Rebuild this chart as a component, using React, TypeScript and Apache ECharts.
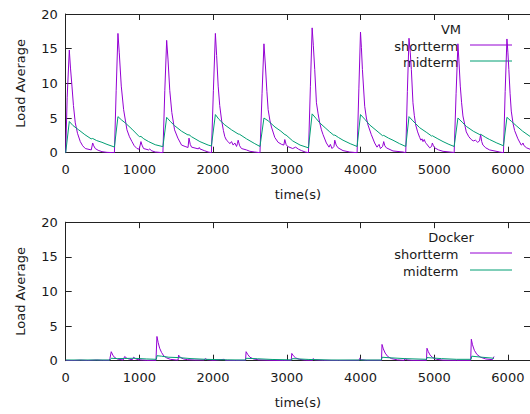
import React, { useEffect, useRef } from "react";
import * as echarts from "echarts";

type P = [number, number];

const xTicks = [0, 1000, 2000, 3000, 4000, 5000, 6000];
const yTicks = [0, 5, 10, 15, 20];
const seriesNames = ["shortterm", "midterm"];
const panelTitles = ["VM", "Docker"];

const vmShort: P[] = [
  [0, 0], [20, 8], [49, 14.8], [65, 12.2], [85, 9.6], [105, 6.8], [130, 4.3], [160, 2.8], [198, 1.6], [230, 1.0], [266, 0.6], [347, 0.4], [366, 1.4], [380, 1.0], [401, 0.6], [440, 0.35], [492, 0.15], [560, 0.05], [661, 0],
  [685, 9], [709, 17.2], [727, 14.4], [754, 9.6], [786, 6.2], [831, 3.3], [865, 2.3], [899, 1.6], [930, 1.0], [967, 0.6], [998, 0.5], [1021, 1.6], [1035, 1.1], [1057, 0.6], [1125, 0.4], [1140, 0.55], [1160, 0.3], [1215, 0.1], [1319, 0],
  [1345, 9], [1370, 16.2], [1388, 13.5], [1412, 9.0], [1440, 5.8], [1477, 3.3], [1522, 2.1], [1572, 1.1], [1620, 0.9], [1660, 0.75], [1673, 2.1], [1690, 1.2], [1708, 0.8], [1800, 0.55], [1812, 0.75], [1821, 0.55], [1880, 0.3], [1933, 0.1], [1977, 0],
  [2004, 9], [2031, 17.2], [2048, 14], [2069, 9.6], [2090, 6.8], [2115, 4.7], [2140, 3.2], [2159, 2.3], [2182, 1.8], [2204, 1.6], [2227, 1.3], [2250, 1.6], [2272, 1.1], [2295, 1.4], [2318, 0.9], [2330, 1.3], [2340, 1.8], [2360, 1.0], [2385, 0.6], [2453, 0.4], [2500, 0.2], [2566, 0.1], [2636, 0],
  [2664, 8.5], [2690, 15.7], [2710, 12.5], [2730, 8.8], [2747, 6.2], [2770, 4.7], [2792, 3.7], [2837, 2.2], [2882, 1.5], [2930, 1.2], [2960, 1.1], [2973, 1.9], [2990, 1.2], [3010, 0.9], [3080, 0.6], [3120, 0.8], [3160, 0.5], [3200, 0.3], [3250, 0.1], [3294, 0],
  [3320, 9.5], [3344, 18.0], [3360, 15.5], [3379, 12], [3402, 7.2], [3425, 5.6], [3447, 4.3], [3470, 3.3], [3492, 2.6], [3537, 1.4], [3573, 0.8], [3591, 1.2], [3614, 0.6], [3640, 0.9], [3651, 1.8], [3670, 1.1], [3696, 0.7], [3763, 0.3], [3853, 0.1], [3954, 0],
  [3978, 9.2], [4000, 17.4], [4012, 15.2], [4026, 12], [4057, 6.7], [4080, 5.0], [4102, 4.0], [4147, 2.6], [4192, 1.4], [4224, 0.8], [4252, 1.2], [4270, 0.6], [4300, 0.9], [4315, 1.6], [4330, 1.0], [4351, 0.7], [4441, 0.25], [4577, 0.1], [4614, 0],
  [4636, 8.8], [4658, 16.5], [4675, 14.5], [4690, 12], [4712, 7.2], [4730, 5.4], [4749, 4.0], [4775, 3.0], [4803, 2.2], [4820, 1.8], [4835, 2.0], [4848, 1.6], [4865, 1.9], [4880, 1.5], [4894, 1.3], [4939, 0.7], [4965, 0.9], [4975, 1.4], [4990, 1.0], [5007, 0.7], [5060, 0.4], [5120, 0.2], [5256, 0.05], [5271, 0],
  [5297, 8.5], [5322, 15.7], [5338, 12.8], [5354, 9.6], [5372, 7.2], [5390, 5.3], [5435, 3.0], [5470, 2.3], [5503, 1.9], [5530, 1.7], [5560, 1.8], [5590, 1.5], [5615, 1.7], [5630, 2.6], [5645, 1.6], [5661, 1.1], [5700, 0.7], [5752, 0.4], [5888, 0.1], [5940, 0],
  [5963, 8.8], [5987, 16.4], [6000, 14.5], [6013, 12], [6030, 8.5], [6046, 6.0], [6070, 4.2], [6091, 3.2], [6136, 2.0], [6181, 1.1], [6195, 1.2], [6204, 1.4], [6220, 1.0], [6254, 0.7], [6300, 0.5],
];

const vmMid: P[] = [
  [0, 0], [49, 4.5], [100, 3.9], [176, 3.3], [260, 2.6], [345, 2.0], [366, 2.05], [420, 1.75], [492, 1.5], [560, 1.2], [661, 0.82],
  [709, 5.2], [760, 4.7], [808, 4.3], [899, 3.4], [1000, 2.3], [1021, 2.35], [1060, 2.0], [1125, 1.6], [1215, 1.15], [1319, 0.87],
  [1370, 5.1], [1420, 4.5], [1477, 3.9], [1572, 3.1], [1660, 2.55], [1673, 2.6], [1708, 2.3], [1821, 1.6], [1933, 1.1], [1977, 0.97],
  [2031, 5.5], [2080, 4.8], [2160, 4.0], [2250, 3.3], [2340, 2.7], [2360, 2.65], [2453, 2.0], [2566, 1.3], [2636, 0.9],
  [2690, 5.0], [2747, 4.6], [2840, 3.7], [2920, 3.1], [2975, 2.6], [2990, 2.55], [3080, 1.7], [3180, 1.1], [3294, 0.7],
  [3344, 5.6], [3400, 4.9], [3447, 4.3], [3520, 3.6], [3583, 3.0], [3640, 2.5], [3651, 2.55], [3700, 2.2], [3763, 1.8], [3860, 1.3], [3954, 0.9],
  [4000, 5.5], [4060, 4.8], [4125, 4.0], [4238, 3.0], [4300, 2.45], [4315, 2.5], [4380, 2.1], [4441, 1.8], [4530, 1.3], [4614, 0.9],
  [4658, 5.2], [4710, 4.6], [4803, 3.6], [4900, 2.9], [4965, 2.4], [4975, 2.45], [5050, 2.0], [5120, 1.6], [5200, 1.2], [5271, 0.9],
  [5322, 5.0], [5380, 4.4], [5435, 3.8], [5530, 3.1], [5620, 2.6], [5632, 2.65], [5700, 2.2], [5752, 1.9], [5850, 1.4], [5940, 1.0],
  [5987, 5.1], [6050, 4.5], [6113, 3.9], [6200, 3.1], [6300, 2.35],
];

const dockerShort: P[] = [
  [0, 0.05], [100, 0.02], [200, 0.08], [300, 0.03], [420, 0.1], [500, 0.05], [590, 0.05], [600, 0.3], [618, 1.3], [640, 0.8], [660, 0.5], [700, 0.25], [750, 0.15],
  [780, 0.1], [800, 0.6], [830, 0.35], [870, 0.2], [905, 0.15], [922, 0.5], [945, 0.3], [980, 0.15], [1040, 0.1], [1100, 0.05], [1225, 0.05],
  [1238, 3.5], [1255, 2.6], [1275, 1.8], [1300, 1.2], [1330, 0.7], [1370, 0.4], [1420, 0.2], [1500, 0.1],
  [1525, 0.1], [1532, 0.8], [1560, 0.45], [1600, 0.25], [1650, 0.15], [1750, 0.1], [1880, 0.1], [1892, 0.3], [1920, 0.15], [2000, 0.05], [2150, 0.2], [2170, 0.05], [2300, 0.03], [2440, 0.05],
  [2448, 1.3], [2470, 0.9], [2500, 0.5], [2550, 0.25], [2620, 0.12], [2800, 0.05], [2950, 0.03], [3060, 0.05],
  [3068, 1.05], [3090, 0.7], [3120, 0.4], [3170, 0.2], [3250, 0.08], [3350, 0.05], [3356, 0.3], [3380, 0.12], [3500, 0.05], [3700, 0.03], [3980, 0.05], [3989, 0.35], [4010, 0.15], [4080, 0.05], [4285, 0.05],
  [4292, 2.35], [4310, 1.7], [4335, 1.1], [4370, 0.6], [4420, 0.3], [4500, 0.12], [4595, 0.05], [4600, 0.3], [4630, 0.12], [4700, 0.05], [4895, 0.05],
  [4902, 1.8], [4920, 1.3], [4945, 0.8], [4980, 0.45], [5030, 0.2], [5120, 0.08], [5300, 0.05], [5495, 0.05],
  [5504, 3.1], [5520, 2.3], [5545, 1.5], [5580, 0.9], [5630, 0.5], [5700, 0.25], [5790, 0.15], [5812, 0.6],
];

const dockerMid: P[] = [
  [0, 0.1], [600, 0.1], [618, 0.35], [700, 0.3], [800, 0.32], [922, 0.35], [1100, 0.25], [1230, 0.2], [1238, 0.72], [1300, 0.65], [1400, 0.5],
  [1532, 0.45], [1700, 0.3], [1900, 0.2], [2200, 0.12], [2440, 0.1], [2448, 0.35], [2600, 0.28], [2800, 0.18], [3068, 0.12], [3075, 0.3],
  [3300, 0.18], [3600, 0.1], [4000, 0.1], [4285, 0.1], [4292, 0.5], [4400, 0.42], [4600, 0.3], [4895, 0.2], [4902, 0.45], [5100, 0.3],
  [5300, 0.2], [5500, 0.2], [5510, 0.65], [5650, 0.5], [5812, 0.35],
];

const PURPLE = "#9400d3";
const GREEN = "#009e73";
const FONT = "DejaVu Sans";
const TEXT = "#1a1a1a";
const AXIS = "#222";

export default function App() {
  const ref = useRef<HTMLDivElement>(null);
  useEffect(() => {
    if (!ref.current) return;
    const chart = echarts.init(ref.current, undefined, { renderer: "svg" });
    const grids = [
      { left: 65.7, top: 14, width: 464.8, height: 138.7 },
      { left: 65.7, top: 222.2, width: 464.8, height: 138.5 },
    ];
    const xMax = 6300;
    const tickLine = { show: true, inside: true, length: 6, lineStyle: { color: AXIS, width: 1 } };
    const axisLine = { show: true, onZero: false, lineStyle: { color: AXIS, width: 1 } };
    const xAxes: any[] = [];
    const yAxes: any[] = [];
    grids.forEach((_, g) => {
      xAxes.push({
        type: "value", gridIndex: g, min: 0, max: xMax, interval: 1000, position: "bottom",
        axisLine, axisTick: tickLine, splitLine: { show: false },
        axisLabel: {
          color: TEXT, fontFamily: FONT, fontSize: 13, margin: 10, showMaxLabel: false,
          formatter: (v: number) => (xTicks.includes(v) ? String(v) : ""),
        },
        name: "time(s)", nameLocation: "middle", nameGap: 35,
        nameTextStyle: { color: TEXT, fontFamily: FONT, fontSize: 13 },
      });
      xAxes.push({
        type: "value", gridIndex: g, min: 0, max: xMax, interval: 1000, position: "top",
        axisLine, axisTick: tickLine, splitLine: { show: false }, axisLabel: { show: false },
      });
      yAxes.push({
        type: "value", gridIndex: g, min: 0, max: 20, interval: 5, position: "left",
        axisLine, axisTick: tickLine, splitLine: { show: false },
        axisLabel: {
          color: TEXT, fontFamily: FONT, fontSize: 13, margin: 8,
          formatter: (v: number) => (yTicks.includes(v) ? String(v) : ""),
        },
        name: "Load Average", nameLocation: "middle", nameGap: 39,
        nameTextStyle: { color: TEXT, fontFamily: FONT, fontSize: 13 },
      });
      yAxes.push({
        type: "value", gridIndex: g, min: 0, max: 20, interval: 5, position: "right",
        axisLine, axisTick: tickLine, splitLine: { show: false }, axisLabel: { show: false },
      });
    });
    const mk = (name: string, data: P[], color: string, g: number) => ({
      name, type: "line", data, xAxisIndex: g * 2, yAxisIndex: g * 2,
      showSymbol: false, symbol: "none", clip: true,
      lineStyle: { color, width: 1 }, itemStyle: { color },
    });
    const legendG = (g: number, titleY: number, y1: number, y2: number) => [
      { type: "text", style: { text: panelTitles[g], x: 451, y: titleY, textAlign: "center", textVerticalAlign: "middle", font: `13px "${FONT}"`, fill: TEXT } },
      { type: "text", style: { text: seriesNames[0], x: 458.5, y: y1, textAlign: "right", textVerticalAlign: "middle", font: `13px "${FONT}"`, fill: TEXT } },
      { type: "line", shape: { x1: 470, y1: y1 - 1, x2: 512, y2: y1 - 1 }, style: { stroke: PURPLE, lineWidth: 1 } },
      { type: "text", style: { text: seriesNames[1], x: 458.5, y: y2, textAlign: "right", textVerticalAlign: "middle", font: `13px "${FONT}"`, fill: TEXT } },
      { type: "line", shape: { x1: 470, y1: y2 - 1, x2: 512, y2: y2 - 1 }, style: { stroke: GREEN, lineWidth: 1 } },
    ];
    chart.setOption({
      animation: false,
      backgroundColor: "#ffffff",
      grid: grids,
      xAxis: xAxes,
      yAxis: yAxes,
      series: [
        mk(seriesNames[0], vmShort, PURPLE, 0),
        mk(seriesNames[1], vmMid, GREEN, 0),
        mk(seriesNames[0], dockerShort, PURPLE, 1),
        mk(seriesNames[1], dockerMid, GREEN, 1),
      ],
      graphic: [...legendG(0, 29.5, 46, 62), ...legendG(1, 237.5, 254, 271)],
    });
    return () => chart.dispose();
  }, []);
  return <div ref={ref} style={{ width: 530, height: 414, position: "absolute", left: 0, top: 0 }} />;
}
